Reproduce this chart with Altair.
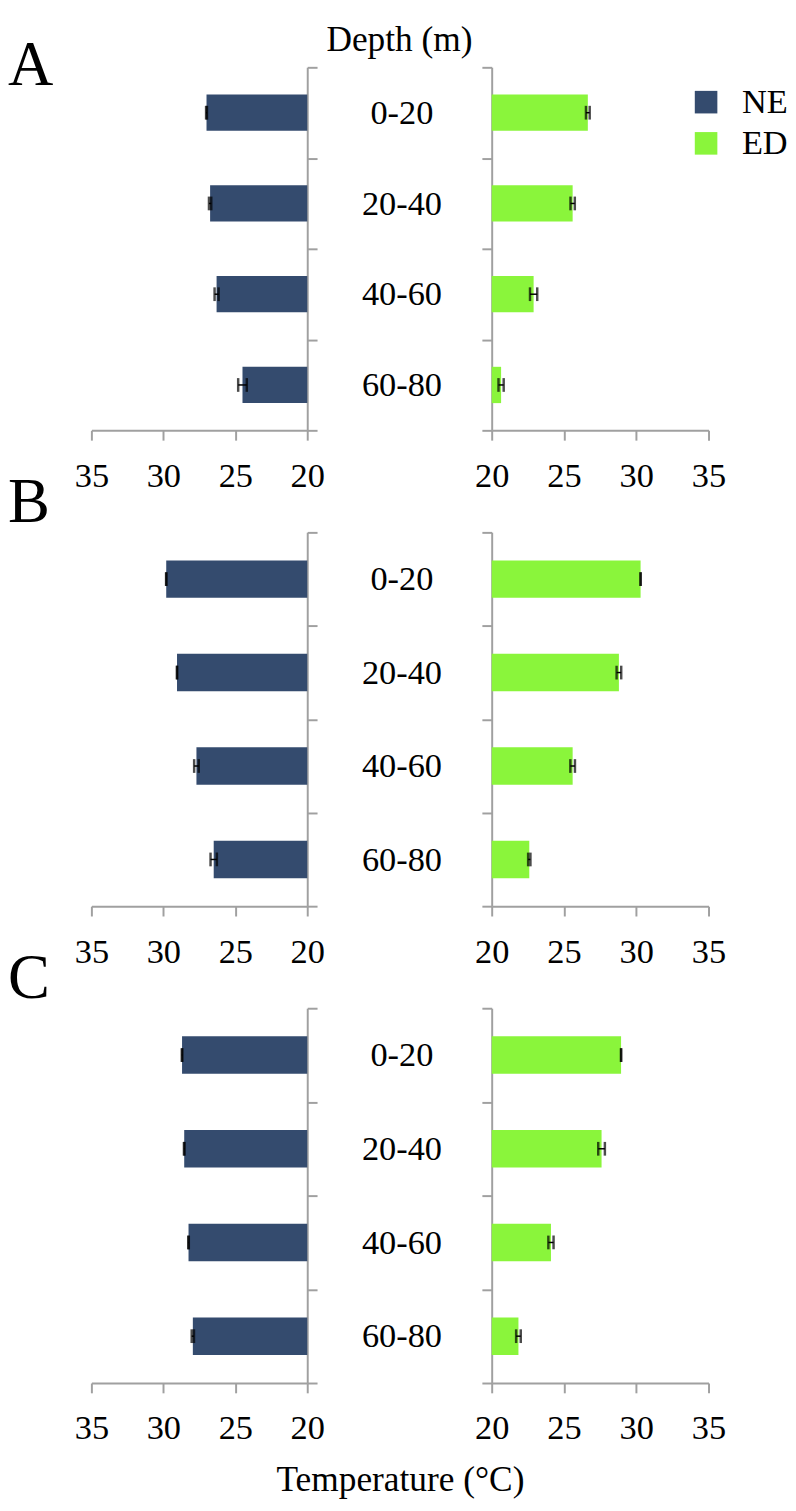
import altair as alt
import pandas as pd

depths = ["0-20", "20-40", "40-60", "60-80"]
groups = ["NE", "ED"]
colors = ["#344B6E", "#8AF53B"]
x_ticks = [20, 25, 30, 35]

ne_a = [27.0, 26.75, 26.3, 24.5]
ne_a_err = [0.03, 0.08, 0.14, 0.30]
ed_a = [26.65, 25.6, 22.9, 20.65]
ed_a_err = [0.13, 0.15, 0.25, 0.18]

ne_b = [29.8, 29.05, 27.7, 26.5]
ne_b_err = [0.01, 0.0, 0.16, 0.22]
ed_b = [30.3, 28.8, 25.6, 22.6]
ed_b_err = [0.0, 0.16, 0.16, 0.08]

ne_c = [28.7, 28.55, 28.25, 27.95]
ne_c_err = [0.02, 0.02, 0.02, 0.08]
ed_c = [28.95, 27.6, 24.1, 21.85]
ed_c_err = [0.0, 0.23, 0.18, 0.16]

FONT = "Liberation Serif"
GRAY = "#A0A0A0"
LEFT_W, RIGHT_W, GAP = 220, 221, 188
ROW_GAP = 104

label_list = "[" + ",".join("'%s'" % d for d in depths) + "]"
label_expr = "datum.value % 1 == 0 ? '' : " + label_list + "[floor(datum.value)]"
y_vals = [i / 2 for i in range(9)]
tick_op = {"condition": {"test": "datum.value % 1 != 0", "value": 0}, "value": 1}


def note(text, x, y, size, align="left"):
    return alt.Chart(pd.DataFrame({"t": [text]})).mark_text(
        font=FONT, fontSize=size, align=align, baseline="alphabetic", color="black"
    ).encode(text="t:N", x=alt.value(x), y=alt.value(y))


def side(values, errs, group, left, height, notes=()):
    df = pd.DataFrame({"depth": depths, "idx": list(range(len(depths))),
                       "value": values, "err": errs, "group": group})
    base = alt.Chart(df).transform_calculate(
        y0="datum.idx + 0.3", y1="datum.idx + 0.7", ym="datum.idx + 0.5",
        lo="datum.value - datum.err", hi="datum.value + datum.err")
    xscale = alt.Scale(domain=[20, 35], reverse=left, nice=False, zero=False)
    yscale = alt.Scale(domain=[0, 4], reverse=True, nice=False, zero=False)
    xaxis = alt.Axis(values=x_ticks, title=None, grid=False, tickSize=10,
                     labelPadding=19, labelFlush=False, labelOverlap=False)
    if left:
        yaxis = alt.Axis(orient="right", values=y_vals, title=None, grid=False,
                         tickSize=10, tickOpacity=tick_op, labelExpr=label_expr,
                         labelAlign="center", labelBaseline="middle",
                         labelPadding=86, labelOverlap=False, labelFlush=False)
    else:
        yaxis = alt.Axis(orient="left", values=[0, 1, 2, 3, 4], title=None,
                         grid=False, tickSize=10, labels=False)
    legend = alt.Legend(orient="none", legendX=609, legendY=18, title=None,
                        symbolType="square", symbolSize=529, symbolStrokeWidth=0,
                        labelFont=FONT, labelFontSize=35, labelOffset=19,
                        rowPadding=6, labelColor="black")
    bars = base.mark_bar().encode(
        x=alt.X("value:Q", scale=xscale, axis=xaxis),
        x2=alt.datum(20),
        y=alt.Y("y0:Q", scale=yscale, axis=yaxis),
        y2="y1:Q",
        color=alt.Color("group:N", scale=alt.Scale(domain=groups, range=colors),
                        legend=legend),
    )
    rule = base.mark_rule(color="black", strokeWidth=1.5).encode(
        x=alt.X("lo:Q", title=None), x2="hi:Q", y=alt.Y("ym:Q", title=None))
    tlo = base.mark_tick(color="black", orient="vertical", size=14, thickness=2.5).encode(
        x=alt.X("lo:Q", title=None), y=alt.Y("ym:Q", title=None))
    thi = base.mark_tick(color="black", orient="vertical", size=14, thickness=2.5).encode(
        x=alt.X("hi:Q", title=None), y=alt.Y("ym:Q", title=None))
    return alt.layer(bars, rule, tlo, thi, *notes).properties(
        width=LEFT_W if left else RIGHT_W, height=height)


charts = [
    side(ne_a, ne_a_err, "NE", True, 370,
         [note("A", -85, 18, 64), note("Depth (m)", 314, -17, 36, "center")]),
    side(ed_a, ed_a_err, "ED", False, 370),
    side(ne_b, ne_b_err, "NE", True, 381, [note("B", -85, -11, 64)]),
    side(ed_b, ed_b_err, "ED", False, 381),
    side(ne_c, ne_c_err, "NE", True, 382,
         [note("C", -85, -10, 64), note("Temperature (°C)", 315, 492, 36, "center")]),
    side(ed_c, ed_c_err, "ED", False, 382),
]

chart = alt.concat(
    *charts, columns=2, bounds="flush",
    spacing={"row": ROW_GAP, "column": GAP},
).resolve_scale(
    x="independent", y="independent", color="shared"
).properties(
    padding={"left": 0, "top": 0, "right": 0, "bottom": 0},
).configure_axis(
    domainColor=GRAY, tickColor=GRAY, domainWidth=2, tickWidth=2,
    labelFont=FONT, labelFontSize=35, labelColor="black",
).configure_view(strokeWidth=0)

chart.save("out.html", embed_options={"renderer": "svg", "actions": False})
